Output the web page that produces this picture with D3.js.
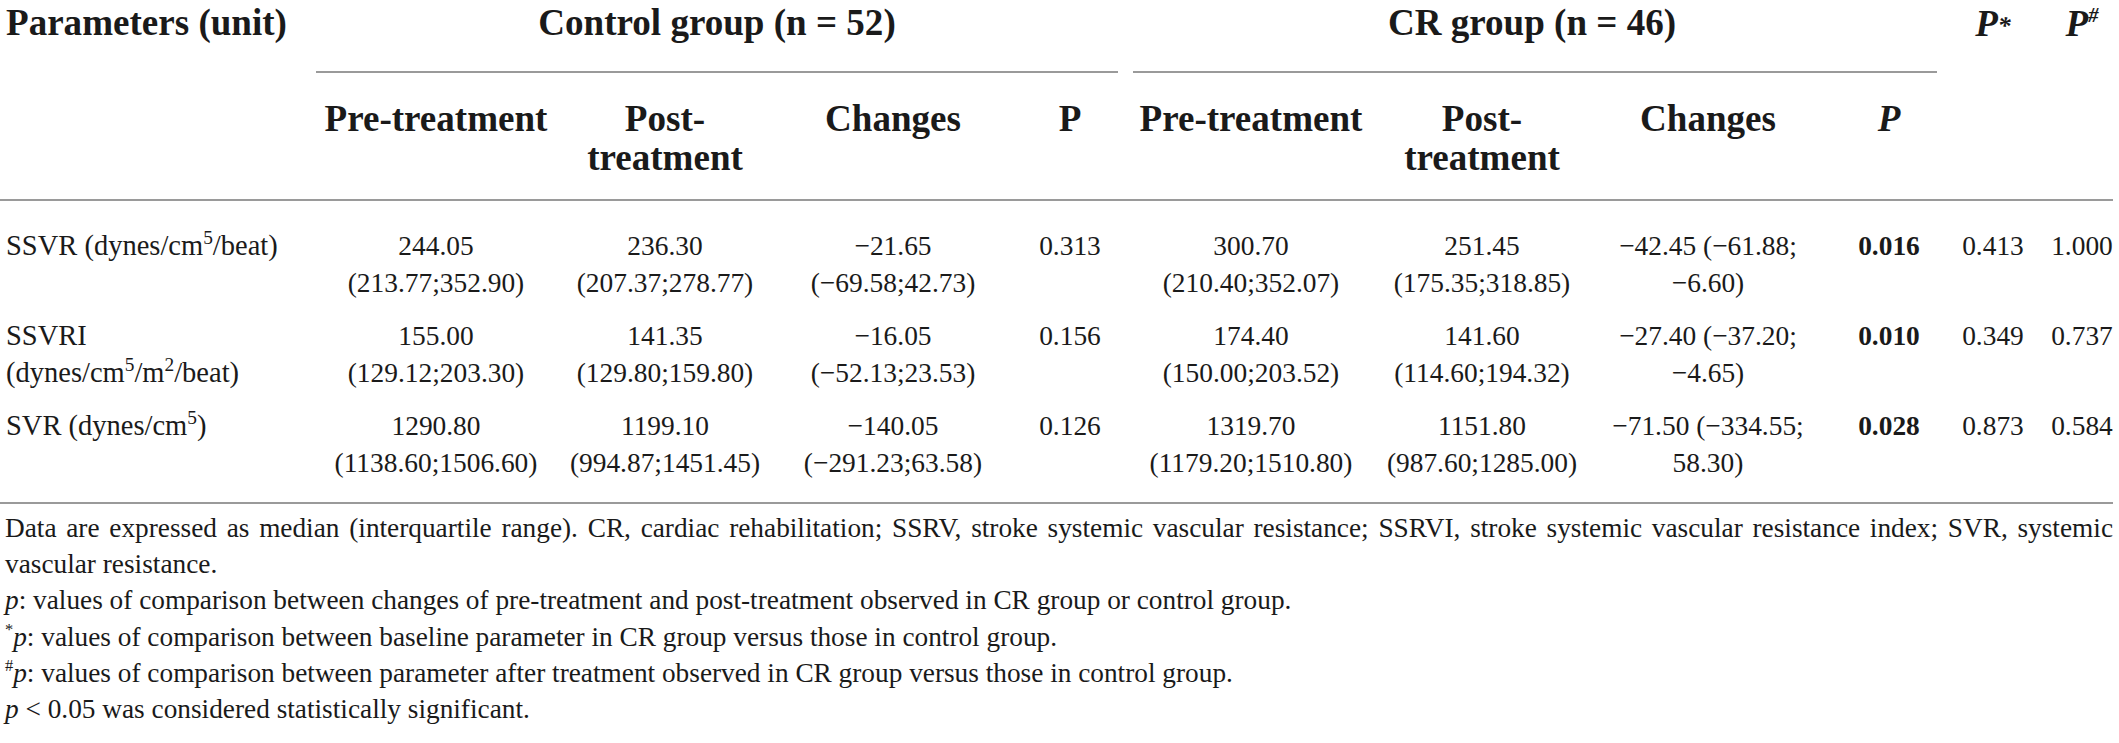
<!DOCTYPE html>
<html><head><meta charset="utf-8">
<script src="https://cdn.jsdelivr.net/npm/d3@7"></script>
<style>
html,body{margin:0;padding:0;background:#fff;}
svg{display:block;}
svg text{font-family:"Liberation Serif","Times New Roman","DejaVu Serif",serif;}
</style>
</head><body>
<svg id="c" width="2119" height="743"></svg>
<script>
// ---------- data ----------
const paramLabels = ["SSVR (dynes/cm^5^/beat)", "SSVRI\n(dynes/cm^5^/m^2^/beat)", "SVR (dynes/cm^5^)"];
const ctrlPre = [244.05, 155.00, 1290.80];
const ctrlPreIQR = [[213.77, 352.90], [129.12, 203.30], [1138.60, 1506.60]];
const ctrlPost = [236.30, 141.35, 1199.10];
const ctrlPostIQR = [[207.37, 278.77], [129.80, 159.80], [994.87, 1451.45]];
const ctrlChange = [-21.65, -16.05, -140.05];
const ctrlChangeIQR = [[-69.58, 42.73], [-52.13, 23.53], [-291.23, 63.58]];
const ctrlP = [0.313, 0.156, 0.126];
const crPre = [300.70, 174.40, 1319.70];
const crPreIQR = [[210.40, 352.07], [150.00, 203.52], [1179.20, 1510.80]];
const crPost = [251.45, 141.60, 1151.80];
const crPostIQR = [[175.35, 318.85], [114.60, 194.32], [987.60, 1285.00]];
const crChange = [-42.45, -27.40, -71.50];
const crChangeIQR = [[-61.88, -6.60], [-37.20, -4.65], [-334.55, 58.30]];
const crP = [0.016, 0.010, 0.028];
const pStar = [0.413, 0.349, 0.873];
const pHash = [1.000, 0.737, 0.584];
const groupLabels = ["Control group (n = 52)", "CR group (n = 46)"];
const subHeaders = ["Pre-treatment", "Post-\ntreatment", "Changes", "P"];
const footnotes = [
  [{t: "Data are expressed as median (interquartile range). CR, cardiac rehabilitation; SSRV, stroke systemic vascular resistance; SSRVI, stroke systemic vascular resistance index; SVR, systemic"}],
  [{t: "vascular resistance."}],
  [{t: "p", i: 1}, {t: ": values of comparison between changes of pre-treatment and post-treatment observed in CR group or control group."}],
  [{t: "*", s: 1}, {t: "p", i: 1}, {t: ": values of comparison between baseline parameter in CR group versus those in control group."}],
  [{t: "#", s: 1}, {t: "p", i: 1}, {t: ": values of comparison between parameter after treatment observed in CR group versus those in control group."}],
  [{t: "p", i: 1}, {t: " < 0.05 was considered statistically significant."}]
];

// ---------- layout ----------
const W = 2119, H = 743;
const INK = "#1a1a1a", RULE = "#9a9a9a";
const svg = d3.select("#c");
svg.append("rect").attr("width", W).attr("height", H).attr("fill", "#fff");

// fit font sizes to the widths seen in the reference
function measure(str, weight) {
  const t = svg.append("text").attr("x", 0).attr("y", -200).attr("font-size", 100).attr("font-weight", weight || "normal").text(str);
  const w = t.node().getComputedTextLength();
  t.remove();
  return w;
}
const HEAD = Math.min(40, 100 * 223 / measure("Pre-treatment", "bold"));
const BODY = Math.min(31, 100 * 203 / measure("(1138.60;1506.60)"));
const LABEL = BODY * 1.04;
const NOTE = Math.min(30, 100 * 1287 / measure("p: values of comparison between changes of pre-treatment and post-treatment observed in CR group or control group."));

const cols = ["cPre", "cPost", "cChg", "cP", "rPre", "rPost", "rChg", "rP", "pS", "pH"];
const x = d3.scaleOrdinal().domain(cols).range([436, 665, 893, 1070, 1251, 1482, 1708, 1889, 1993, 2082]);
const yRow = d3.scaleLinear().domain([0, 2]).range([255, 435]);
const LINE = 37;
const yNote = d3.scaleLinear().domain([0, 5]).range([537, 718]);
const f2 = d3.format(".2f"), f3 = d3.format(".3f");

function rich(sel, str, size) {
  const parts = str.split("^");
  let shift = 0;
  parts.forEach((p, i) => {
    if (!p) return;
    const t = sel.append("tspan").text(p);
    if (i % 2 === 1) { t.attr("font-size", size * 0.68).attr("dy", -size * 0.38); shift = size * 0.38; }
    else if (shift) { t.attr("dy", shift); shift = 0; }
  });
}

const g = svg.append("g").attr("fill", INK);

// header row 1
g.append("text").attr("x", 6).attr("y", 35).attr("font-size", HEAD).attr("font-weight", "bold").text("Parameters (unit)");
g.append("text").attr("x", 717).attr("y", 35).attr("text-anchor", "middle").attr("font-size", HEAD).attr("font-weight", "bold").text(groupLabels[0]);
g.append("text").attr("x", 1532).attr("y", 35).attr("text-anchor", "middle").attr("font-size", HEAD).attr("font-weight", "bold").text(groupLabels[1]);
const ps = g.append("text").attr("x", x("pS")).attr("y", 36).attr("text-anchor", "middle").attr("font-size", HEAD).attr("font-weight", "bold").attr("font-style", "italic");
ps.append("tspan").text("P");
ps.append("tspan").attr("font-size", HEAD * 0.7).attr("dy", -2).text("*");
const ph = g.append("text").attr("x", x("pH")).attr("y", 36).attr("text-anchor", "middle").attr("font-size", HEAD).attr("font-weight", "bold").attr("font-style", "italic");
ph.append("tspan").text("P");
ph.append("tspan").attr("font-size", HEAD * 0.55).attr("dy", -HEAD * 0.38).text("#");

// rules
const lines = svg.append("g").attr("stroke", RULE).attr("stroke-width", 2);
lines.append("line").attr("x1", 316).attr("x2", 1118).attr("y1", 72).attr("y2", 72);
lines.append("line").attr("x1", 1133).attr("x2", 1937).attr("y1", 72).attr("y2", 72);
lines.append("line").attr("x1", 0).attr("x2", 2113).attr("y1", 200).attr("y2", 200);
lines.append("line").attr("x1", 0).attr("x2", 2113).attr("y1", 503).attr("y2", 503);

// header row 2
[["cPre", "cPost", "cChg", "cP"], ["rPre", "rPost", "rChg", "rP"]].forEach((grp, gi) => {
  grp.forEach((c, k) => {
    const parts = subHeaders[k].split("\n");
    parts.forEach((s, li) => {
      const t = g.append("text").attr("x", x(c)).attr("y", li ? 170 : 131).attr("text-anchor", "middle")
        .attr("font-size", HEAD).attr("font-weight", "bold").text(s);
      if (k === 3 && gi === 1) t.attr("font-style", "italic");
    });
  });
});

// body rows
const rng = r => "(" + f2(r[0]) + ";" + f2(r[1]) + ")";
paramLabels.forEach((lab, i) => {
  const y0 = yRow(i);
  lab.split("\n").forEach((s, li) => {
    const t = g.append("text").attr("x", 6).attr("y", y0 + li * LINE).attr("font-size", LABEL);
    rich(t, s, LABEL);
  });
  const two = (c, a, b, bold) => {
    const t1 = g.append("text").attr("x", x(c)).attr("y", y0).attr("text-anchor", "middle").attr("font-size", BODY).text(a);
    if (bold) t1.attr("font-weight", "bold");
    if (b) g.append("text").attr("x", x(c)).attr("y", y0 + LINE).attr("text-anchor", "middle").attr("font-size", BODY).text(b);
  };
  two("cPre", f2(ctrlPre[i]), rng(ctrlPreIQR[i]));
  two("cPost", f2(ctrlPost[i]), rng(ctrlPostIQR[i]));
  two("cChg", f2(ctrlChange[i]), rng(ctrlChangeIQR[i]));
  two("cP", f3(ctrlP[i]));
  two("rPre", f2(crPre[i]), rng(crPreIQR[i]));
  two("rPost", f2(crPost[i]), rng(crPostIQR[i]));
  two("rChg", f2(crChange[i]) + " (" + f2(crChangeIQR[i][0]) + ";", f2(crChangeIQR[i][1]) + ")");
  two("rP", f3(crP[i]), null, true);
  two("pS", f3(pStar[i]));
  two("pH", f3(pHash[i]));
});

// footnotes
const fg = g.append("g").attr("font-size", NOTE);
footnotes.forEach((segs, i) => {
  const y = yNote(i);
  if (i === 0) {
    const words = segs[0].t.split(" ");
    const tmp = fg.append("text").attr("y", -100);
    const ws = words.map(w => { tmp.text(w); return tmp.node().getComputedTextLength(); });
    tmp.remove();
    const left = 5, right = 2113;
    const gap = (right - left - d3.sum(ws)) / (words.length - 1);
    const t = fg.append("text").attr("y", y);
    let cx = left;
    words.forEach((w, k) => { t.append("tspan").attr("x", cx).text(w); cx += ws[k] + gap; });
    return;
  }
  const t = fg.append("text").attr("x", 5).attr("y", y);
  let shift = 0;
  segs.forEach(s => {
    const ts = t.append("tspan").text(s.t);
    if (s.i) ts.attr("font-style", "italic");
    if (s.s) { ts.attr("font-size", NOTE * 0.6).attr("dy", -NOTE * 0.38); shift = NOTE * 0.38; }
    else if (shift) { ts.attr("dy", shift); shift = 0; }
  });
});
</script>
</body></html>
